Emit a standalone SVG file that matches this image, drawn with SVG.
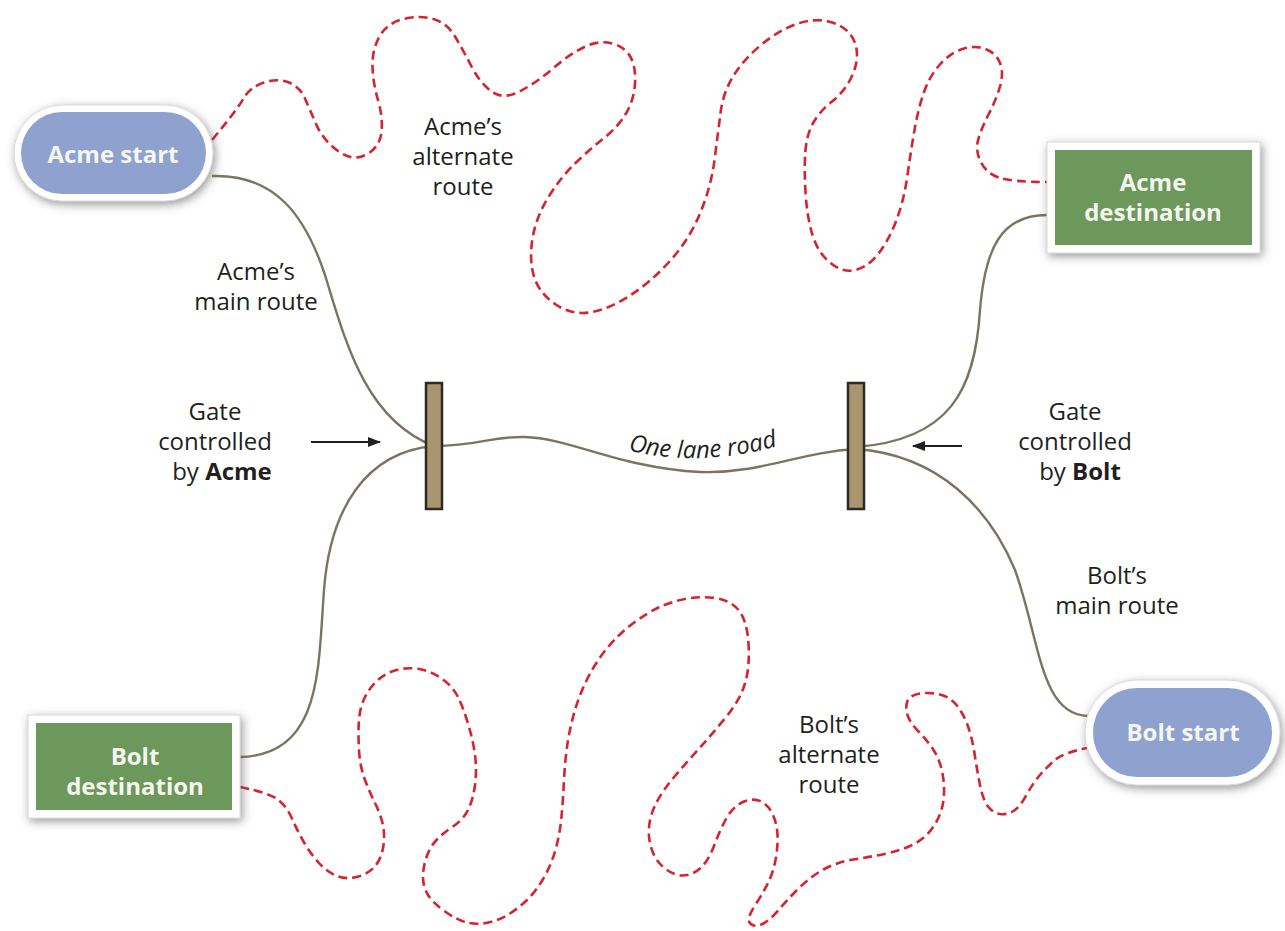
<svg xmlns="http://www.w3.org/2000/svg" width="1285" height="931" viewBox="0 0 1285 931">
<style>
.lbl{font-family:"Open Sans","Noto Sans","Liberation Sans",sans-serif;font-size:24px;fill:#231f20;text-anchor:middle}
.b{font-weight:bold}
.ntxt{font-family:"Open Sans","Noto Sans","Liberation Sans",sans-serif;font-size:24px;font-weight:bold;fill:#f4f7ee;text-anchor:middle}
.main{fill:none;stroke:#7d735f;stroke-width:2.4}
.alt{fill:none;stroke:#d3242f;stroke-width:2.6;stroke-dasharray:9 5}
.arr{stroke:#231f20;stroke-width:2}
.outer{fill:#ffffff;stroke:#d8d8d8;stroke-width:1}
.blue{fill:#8fa2cf}
.green{fill:#6c985c}
.gate{fill:#a8956f;stroke:#2e2a22;stroke-width:2.5}
</style>
<defs>
<filter id="sh" x="-20%" y="-30%" width="140%" height="160%">
<feDropShadow dx="2" dy="3" stdDeviation="5" flood-color="#555" flood-opacity="0.6"/>
</filter>
<marker id="ah" markerWidth="13" markerHeight="10" refX="12" refY="5" orient="auto" markerUnits="userSpaceOnUse">
<path d="M0,0 L13,5 L0,10 z" fill="#231f20"/>
</marker>
<path id="roadtext" d="M 628 450 Q 702 470 796 441"/>
</defs>
<rect width="1285" height="931" fill="#ffffff"/>
<g id="connectors">
<path class="main" d="M 212 176 C 275 174, 305 215, 325 275 C 345 340, 365 420, 434 446"/>
<path class="main" d="M 434 446 C 365 452, 330 510, 324 590 C 318 670, 322 755, 240 757"/>
<path class="main" d="M 434 446 C 480 446, 490 436, 525 437 C 570 438, 620 468, 700 472 C 760 474, 800 452, 856 449"/>
<path class="main" d="M 856 447 C 950 440, 975 390, 980 310 C 985 250, 1000 215, 1047 215"/>
<path class="main" d="M 856 449 C 940 455, 990 510, 1015 570 C 1040 640, 1040 715, 1088 716"/>
<path class="alt" d="M 212 140 Q 237 110 243.5 98.5 Q 250 87 264 82.5 Q 278 78 289 82.5 Q 300 87 305 98.5 Q 310 110 316.5 125 Q 323 140 338 151 Q 353 162 366.5 154.5 Q 380 147 381.5 132 Q 383 117 378 100 Q 373 83 372.5 66.5 Q 372 50 379.5 36.5 Q 387 23 403.5 19 Q 420 15 433.5 19 Q 447 23 455 36.5 Q 463 50 471.5 66.5 Q 480 83 491.5 91.5 Q 503 100 519.5 91.5 Q 536 83 553.5 68 Q 571 53 585.5 46.5 Q 600 40 612.5 43.5 Q 625 47 630.5 57 Q 636 67 635 83.5 Q 634 100 626 113.5 Q 618 127 603.5 138.5 Q 589 150 575 163.5 Q 561 177 548.5 197 Q 536 217 532.5 238.5 Q 529 260 534 276.5 Q 539 293 555 304 Q 571 315 589 312.5 Q 607 310 628.5 296.5 Q 650 283 669.5 261.5 Q 689 240 700 213.5 Q 711 187 714.5 160 Q 718 133 720.5 113 Q 723 93 733 76.5 Q 743 60 761 45 Q 779 30 796.5 24 Q 814 18 828.5 21.5 Q 843 25 850 34 Q 857 43 857 55 Q 857 67 850 80 Q 843 93 832 101.5 Q 821 110 814 121.5 Q 807 133 805.5 150 Q 804 167 805.5 192 Q 807 217 812.5 235 Q 818 253 830.5 263 Q 843 273 855.5 270 Q 868 267 878.5 253.5 Q 889 240 896.5 220 Q 904 200 907.5 175 Q 911 150 914.5 130 Q 918 110 923.5 93.5 Q 929 77 939.5 65 Q 950 53 962.5 49 Q 975 45 985.5 49 Q 996 53 1000 63 Q 1004 73 1000 86.5 Q 996 100 989 113.5 Q 982 127 978.5 138.5 Q 975 150 980.5 161.5 Q 986 173 998.5 177.5 Q 1011 182 1047 182"/>
<path class="alt" d="M 240 787 Q 270 793 278.5 800 Q 287 807 292 818.5 Q 297 830 303.5 841.5 Q 310 853 318.5 862.5 Q 327 872 337 876 Q 347 880 358.5 876.5 Q 370 873 376 865 Q 382 857 383.5 845 Q 385 833 382.5 823 Q 380 813 375 803 Q 370 793 365 780 Q 360 767 359 750 Q 358 733 359 720 Q 360 707 365 697 Q 370 687 378.5 679.5 Q 387 672 398.5 669.5 Q 410 667 421.5 669.5 Q 433 672 443 679.5 Q 453 687 458 697 Q 463 707 468 723.5 Q 473 740 475 755 Q 477 770 475 785 Q 473 800 468 810 Q 463 820 453 826.5 Q 443 833 436.5 840 Q 430 847 426.5 857 Q 423 867 423 877 Q 423 887 428 895 Q 433 903 445 911.5 Q 457 920 467 922.5 Q 477 925 488.5 922.5 Q 500 920 510 913.5 Q 520 907 528.5 898.5 Q 537 890 544.5 876.5 Q 552 863 556 848 Q 560 833 561.5 816.5 Q 563 800 564 780 Q 565 760 567.5 743.5 Q 570 727 575 710 Q 580 693 588.5 676.5 Q 597 660 608.5 646.5 Q 620 633 633.5 623 Q 647 613 658.5 607.5 Q 670 602 685 599 Q 700 596 715 598 Q 730 600 738.5 610 Q 747 620 748.5 643.5 Q 750 667 745 683.5 Q 740 700 726.5 716.5 Q 713 733 700 747.5 Q 687 762 675 776 Q 663 790 656.5 802.5 Q 650 815 649 827.5 Q 648 840 652.5 851.5 Q 657 863 667 870 Q 677 877 687 875 Q 697 873 703.5 865 Q 710 857 715 843.5 Q 720 830 726 819 Q 732 808 741 803 Q 750 798 758.5 800.5 Q 767 803 772 813 Q 777 823 777.5 835 Q 778 847 775.5 860 Q 773 873 768 883 Q 763 893 756.5 903 Q 750 913 749 918 Q 748 923 752.5 925 Q 757 927 763.5 923.5 Q 770 920 778.5 910 Q 787 900 798.5 888.5 Q 810 877 823.5 869.5 Q 837 862 853.5 859.5 Q 870 857 886.5 853.5 Q 903 850 915 843.5 Q 927 837 934.5 825 Q 942 813 943.5 800 Q 945 787 942.5 773.5 Q 940 760 933.5 750 Q 927 740 918.5 731.5 Q 910 723 907.5 715 Q 905 707 907.5 701 Q 910 695 920 693.5 Q 930 692 940 694.5 Q 950 697 956.5 705 Q 963 713 967.5 725 Q 972 737 974.5 753.5 Q 977 770 980 785 Q 983 800 988 806.5 Q 993 813 1000 814 Q 1007 815 1013.5 811 Q 1020 807 1026.5 795 Q 1033 783 1040 775 Q 1047 767 1055 760 Q 1063 753 1087 748"/>
<line class="arr" x1="311" y1="442" x2="380" y2="442" marker-end="url(#ah)"/>
<line class="arr" x1="962" y1="446" x2="913" y2="446" marker-end="url(#ah)"/>
</g>
<g id="gate-acme"><rect class="gate" x="426" y="383" width="16" height="126"/></g>
<g id="gate-bolt"><rect class="gate" x="848" y="383" width="16" height="126"/></g>
<g id="acme-start">
<rect class="outer" x="14" y="105" width="199" height="96" rx="48" filter="url(#sh)"/>
<rect class="blue" x="21" y="112" width="185" height="82" rx="41"/>
<text class="ntxt" x="113" y="163">Acme start</text>
</g>
<g id="acme-destination">
<rect class="outer" x="1047" y="142" width="213" height="111" filter="url(#sh)"/>
<rect class="green" x="1055" y="150" width="197" height="95"/>
<text class="ntxt" x="1153" y="191">Acme<tspan x="1153" dy="30">destination</tspan></text>
</g>
<g id="bolt-destination">
<rect class="outer" x="28" y="715" width="212" height="103" filter="url(#sh)"/>
<rect class="green" x="36" y="723" width="196" height="87"/>
<text class="ntxt" x="135" y="765">Bolt<tspan x="135" dy="30">destination</tspan></text>
</g>
<g id="bolt-start">
<rect class="outer" x="1085" y="680" width="195" height="105" rx="52" filter="url(#sh)"/>
<rect class="blue" x="1093" y="688" width="179" height="89" rx="44"/>
<text class="ntxt" x="1183" y="741">Bolt start</text>
</g>
<g id="labels">
<text class="lbl" x="463" y="135">Acme’s<tspan x="463" dy="30">alternate</tspan><tspan x="463" dy="30">route</tspan></text>
<text class="lbl" x="256" y="280">Acme’s<tspan x="256" dy="30">main route</tspan></text>
<text class="lbl" x="215" y="420">Gate<tspan x="215" dy="30">controlled</tspan><tspan x="222" dy="30">by <tspan class="b">Acme</tspan></tspan></text>
<text class="lbl" x="1075" y="420">Gate<tspan x="1075" dy="30">controlled</tspan><tspan x="1080" dy="30">by <tspan class="b">Bolt</tspan></tspan></text>
<text class="lbl" x="1117" y="584">Bolt’s<tspan x="1117" dy="30">main route</tspan></text>
<text class="lbl" x="829" y="733">Bolt’s<tspan x="829" dy="30">alternate</tspan><tspan x="829" dy="30">route</tspan></text>
<text class="lbl" style="font-style:italic;text-anchor:start"><textPath href="#roadtext">One lane road</textPath></text>
</g>
</svg>
